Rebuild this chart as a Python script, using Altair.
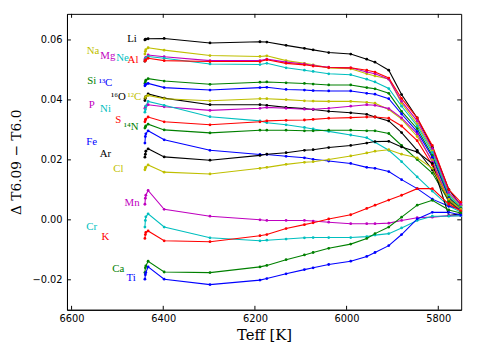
import altair as alt
import pandas as pd

# Effective temperatures along the track (K)
temps = [6440, 6439, 6438, 6433, 6398, 6298, 6189, 6174, 6132, 6092, 6073,
         6039, 5991, 5956, 5938, 5908, 5880, 5846, 5813, 5777, 5751]

li = [0.0600, 0.0602, 0.0603, 0.0604, 0.0605, 0.0590, 0.0594, 0.0593, 0.0582, 0.0572, 0.0567, 0.0558, 0.0553, 0.0536, 0.0526, 0.0499, 0.0418, 0.0340, 0.0242, 0.0101, 0.0049]
na = [0.0553, 0.0562, 0.0568, 0.0574, 0.0566, 0.0548, 0.0545, 0.0547, 0.0531, 0.0522, 0.0517, 0.0507, 0.0504, 0.0487, 0.0480, 0.0470, 0.0389, 0.0320, 0.0232, 0.0085, 0.0046]
mg = [0.0535, 0.0539, 0.0542, 0.0550, 0.0544, 0.0531, 0.0531, 0.0536, 0.0526, 0.0520, 0.0515, 0.0509, 0.0507, 0.0493, 0.0487, 0.0469, 0.0395, 0.0330, 0.0238, 0.0091, 0.0052]
ne = [0.0529, 0.0534, 0.0539, 0.0545, 0.0539, 0.0520, 0.0518, 0.0522, 0.0507, 0.0499, 0.0495, 0.0487, 0.0484, 0.0469, 0.0460, 0.0438, 0.0379, 0.0313, 0.0225, 0.0082, 0.0042]
al = [0.0529, 0.0532, 0.0534, 0.0539, 0.0531, 0.0528, 0.0528, 0.0534, 0.0522, 0.0517, 0.0513, 0.0508, 0.0507, 0.0499, 0.0493, 0.0473, 0.0405, 0.0340, 0.0248, 0.0101, 0.0059]
si = [0.0455, 0.0460, 0.0466, 0.0471, 0.0463, 0.0452, 0.0459, 0.0460, 0.0457, 0.0455, 0.0453, 0.0450, 0.0450, 0.0441, 0.0437, 0.0422, 0.0362, 0.0304, 0.0215, 0.0075, 0.0039]
c13 = [0.0447, 0.0451, 0.0452, 0.0455, 0.0441, 0.0433, 0.0441, 0.0442, 0.0435, 0.0433, 0.0431, 0.0430, 0.0430, 0.0422, 0.0419, 0.0404, 0.0353, 0.0294, 0.0209, 0.0072, 0.0036]
o16 = [0.0398, 0.0405, 0.0411, 0.0420, 0.0406, 0.0384, 0.0384, 0.0382, 0.0375, 0.0371, 0.0368, 0.0362, 0.0357, 0.0352, 0.0343, 0.0330, 0.0291, 0.0232, 0.0167, 0.0069, 0.0036]
c12 = [0.0405, 0.0408, 0.0411, 0.0415, 0.0404, 0.0397, 0.0404, 0.0404, 0.0401, 0.0397, 0.0396, 0.0395, 0.0395, 0.0392, 0.0389, 0.0368, 0.0336, 0.0278, 0.0199, 0.0065, 0.0033]
p = [0.0372, 0.0375, 0.0379, 0.0384, 0.0377, 0.0365, 0.0372, 0.0375, 0.0372, 0.0369, 0.0369, 0.0372, 0.0379, 0.0384, 0.0382, 0.0371, 0.0340, 0.0287, 0.0193, 0.0062, 0.0033]
ni = [0.0359, 0.0368, 0.0379, 0.0395, 0.0382, 0.0344, 0.0330, 0.0324, 0.0317, 0.0308, 0.0303, 0.0295, 0.0283, 0.0274, 0.0259, 0.0232, 0.0194, 0.0143, 0.0096, 0.0046, 0.0026]
s = [0.0327, 0.0333, 0.0336, 0.0343, 0.0327, 0.0317, 0.0327, 0.0330, 0.0332, 0.0333, 0.0335, 0.0339, 0.0341, 0.0343, 0.0343, 0.0339, 0.0313, 0.0264, 0.0183, 0.0059, 0.0029]
n14 = [0.0306, 0.0310, 0.0313, 0.0319, 0.0300, 0.0290, 0.0299, 0.0299, 0.0299, 0.0297, 0.0297, 0.0299, 0.0299, 0.0297, 0.0297, 0.0288, 0.0248, 0.0201, 0.0156, 0.0062, 0.0030]
fe = [0.0256, 0.0278, 0.0287, 0.0297, 0.0267, 0.0232, 0.0218, 0.0218, 0.0212, 0.0207, 0.0202, 0.0196, 0.0188, 0.0175, 0.0172, 0.0161, 0.0134, 0.0104, 0.0069, 0.0045, 0.0036]
ar = [0.0209, 0.0219, 0.0229, 0.0237, 0.0210, 0.0199, 0.0215, 0.0219, 0.0224, 0.0232, 0.0234, 0.0241, 0.0248, 0.0256, 0.0261, 0.0262, 0.0243, 0.0226, 0.0188, 0.0014, 0.0020]
cl = [0.0167, 0.0173, 0.0176, 0.0183, 0.0159, 0.0153, 0.0172, 0.0175, 0.0185, 0.0192, 0.0194, 0.0201, 0.0213, 0.0223, 0.0229, 0.0234, 0.0219, 0.0207, 0.0172, 0.0069, 0.0036]
mn = [0.0052, 0.0072, 0.0082, 0.0098, 0.0035, 0.0012, 0.0000, -0.0002, -0.0002, -0.0002, -0.0004, -0.0008, -0.0013, -0.0013, -0.0013, -0.0011, -0.0002, 0.0007, 0.0009, 0.0014, 0.0014]
cr = [-0.0024, -0.0002, 0.0010, 0.0020, -0.0024, -0.0060, -0.0070, -0.0068, -0.0064, -0.0060, -0.0059, -0.0059, -0.0059, -0.0056, -0.0051, -0.0046, -0.0027, -0.0002, 0.0012, 0.0012, 0.0014]
k = [-0.0062, -0.0049, -0.0042, -0.0037, -0.0070, -0.0073, -0.0053, -0.0049, -0.0029, -0.0016, -0.0010, 0.0003, 0.0017, 0.0038, 0.0049, 0.0066, 0.0082, 0.0104, 0.0104, 0.0052, 0.0030]
ca = [-0.0176, -0.0160, -0.0154, -0.0138, -0.0174, -0.0176, -0.0157, -0.0152, -0.0133, -0.0117, -0.0109, -0.0095, -0.0081, -0.0062, -0.0046, -0.0024, 0.0009, 0.0049, 0.0065, 0.0033, 0.0023]
ti = [-0.0198, -0.0183, -0.0176, -0.0157, -0.0198, -0.0216, -0.0201, -0.0196, -0.0180, -0.0166, -0.0160, -0.0149, -0.0138, -0.0122, -0.0109, -0.0086, -0.0049, 0.0003, 0.0025, 0.0025, 0.0016]

names = ["Li", "Na", "Mg", "Ne", "Al", "Si", "¹³C", "¹⁶O", "¹²C", "P", "Ni",
         "S", "¹⁴N", "Fe", "Ar", "Cl", "Mn", "Cr", "K", "Ca", "Ti"]
values = [li, na, mg, ne, al, si, c13, o16, c12, p, ni, s, n14, fe, ar, cl,
          mn, cr, k, ca, ti]
colors = ["#000000", "#bfbf00", "#bf00bf", "#00bfbf", "#ff0000", "#008000",
          "#0000ff", "#000000", "#bfbf00", "#bf00bf", "#00bfbf", "#ff0000",
          "#008000", "#0000ff", "#000000", "#bfbf00", "#bf00bf", "#00bfbf",
          "#ff0000", "#008000", "#0000ff"]

# Label anchor positions (data coordinates)
label_teff = [6468, 6553, 6521, 6489, 6466, 6556, 6526, 6498, 6463, 6556, 6526,
              6498, 6470, 6556, 6526, 6498, 6468, 6556, 6526, 6498, 6470]
label_delta = [0.0604, 0.0562, 0.0545, 0.0538, 0.0533, 0.0464, 0.0457, 0.0411,
               0.0411, 0.0382, 0.0370, 0.0333, 0.0310, 0.0259, 0.0219, 0.0170,
               0.0055, -0.0024, -0.0059, -0.0164, -0.0194]

xticks = [6600, 6400, 6200, 6000, 5800]
yticks = [-0.02, 0.0, 0.02, 0.04, 0.06]

rows = []
for name, vals in zip(names, values):
    for i, (t, v) in enumerate(zip(temps, vals)):
        rows.append({"series": name, "step": i, "teff": t, "delta": v})
df = pd.DataFrame(rows)

labels = pd.DataFrame({"series": names, "teff": label_teff, "delta": label_delta})

W, H = 401, 301
xs = alt.Scale(domain=[5750, 6610], reverse=True, nice=False, zero=False)
ys = alt.Scale(domain=[-0.03, 0.0687], nice=False, zero=False)
cs = alt.Scale(domain=names, range=colors)

xa = alt.Axis(values=xticks, format="d", title="Teff [K]",
              ticks=False, grid=False, labelPadding=4,
              titleFont="DejaVu Serif", titleFontSize=15, titlePadding=4)
ya = alt.Axis(values=yticks, format=".2f", title="Δ T6.09 − T6.0",
              ticks=False, grid=False, labelPadding=5,
              titleFont="DejaVu Serif", titleFontSize=14, titlePadding=9)

X = alt.X("teff:Q", scale=xs, axis=xa)
Y = alt.Y("delta:Q", scale=ys, axis=ya)

lines = alt.Chart(df).mark_line(
    strokeWidth=1.1, point=alt.OverlayMarkDef(size=8, filled=True)
).encode(
    x=X, y=Y,
    color=alt.Color("series:N", scale=cs, legend=None),
    order=alt.Order("step:Q"),
)

text = alt.Chart(labels).mark_text(
    font="Liberation Serif", fontSize=11, align="center", baseline="middle"
).encode(
    x=X, y=Y,
    text="series:N",
    color=alt.Color("series:N", scale=cs, legend=None),
)

xt = pd.DataFrame({"teff": xticks})
yt = pd.DataFrame({"delta": yticks})
xtick_b = alt.Chart(xt).mark_rule(color="black").encode(
    x=X, y=alt.value(H), y2=alt.value(H - 4))
xtick_t = alt.Chart(xt).mark_rule(color="black").encode(
    x=X, y=alt.value(0), y2=alt.value(4))
ytick_l = alt.Chart(yt).mark_rule(color="black").encode(
    y=Y, x=alt.value(0), x2=alt.value(4))
ytick_r = alt.Chart(yt).mark_rule(color="black").encode(
    y=Y, x=alt.value(W), x2=alt.value(W - 4))

chart = alt.layer(lines, text, xtick_b, xtick_t, ytick_l, ytick_r).properties(
    width=W, height=H, autosize="none",
    padding={"left": 60, "top": 3, "right": 11, "bottom": 41},
).configure_view(stroke="black", strokeWidth=1).configure_axis(
    labelFont="DejaVu Sans", labelFontSize=10, labelColor="black",
    domainColor="black", titleColor="black", titleFontWeight="normal",
)

chart.save("out.html", embed_options={"renderer": "svg", "actions": False})
